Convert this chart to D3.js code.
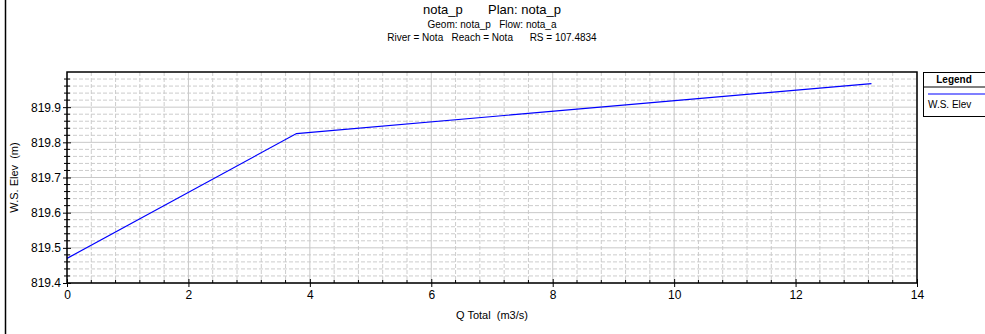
<!DOCTYPE html>
<html>
<head>
<meta charset="utf-8" />
<title>W.S. Elev vs Q Total</title>
<script src="https://d3js.org/d3.v7.min.js"></script>
<style>
  body { margin: 0; background: #fff; font-family: "Liberation Sans", Arial, sans-serif; }
  .tick text { font-size: 12px; fill: #000; }
</style>
</head>
<body>
<div id="chart"></div>
<script>
// data
var qTotal = [0, 3.78, 13.25];
var wsElev = [819.47, 819.825, 819.967];
var xTicks = [0, 2, 4, 6, 8, 10, 12, 14];
var yTicks = [819.4, 819.5, 819.6, 819.7, 819.8, 819.9];
var titleLines = ["nota_p       Plan: nota_p", "Geom: nota_p   Flow: nota_a", "River = Nota   Reach = Nota      RS = 107.4834"];

var W = 985, H = 334;
var margin = { top: 72, right: 68, bottom: 51, left: 67 };
var width = W - margin.left - margin.right,
    height = H - margin.top - margin.bottom;

var svg = d3.select("#chart").append("svg")
    .attr("width", W).attr("height", H);

// outer frame line on the left
svg.append("line").attr("x1", 5.5).attr("x2", 5.5).attr("y1", 0).attr("y2", H)
    .attr("stroke", "#000").attr("stroke-width", 1.5);

// titles
svg.append("text").attr("x", 492).attr("y", 14).attr("text-anchor", "middle")
    .style("font-size", "13px").style("white-space", "pre").text(titleLines[0]);
svg.append("text").attr("x", 492).attr("y", 28).attr("text-anchor", "middle")
    .style("font-size", "10px").style("white-space", "pre").text(titleLines[1]);
svg.append("text").attr("x", 492).attr("y", 41).attr("text-anchor", "middle")
    .style("font-size", "10px").style("white-space", "pre").text(titleLines[2]);

var g = svg.append("g").attr("transform", "translate(" + margin.left + "," + margin.top + ")");

var x = d3.scaleLinear().domain([0, 14]).range([0, width]);
var y = d3.scaleLinear().domain([819.4, 820.0]).range([height, 0]);

var xMinor = d3.range(0, 14.001, 0.4).filter(function (v) { return Math.abs(v / 2 - Math.round(v / 2)) > 1e-6; });
var yMinor = d3.range(819.4, 820.0001, 0.02).filter(function (v) { return Math.abs(v * 10 - Math.round(v * 10)) > 1e-6; });

// minor grid, dashed
g.append("g").selectAll("line").data(xMinor).enter().append("line")
    .attr("x1", function (d) { return x(d); }).attr("x2", function (d) { return x(d); })
    .attr("y1", 0).attr("y2", height)
    .attr("stroke", "#cccccc").attr("stroke-dasharray", "4,2");
g.append("g").selectAll("line").data(yMinor).enter().append("line")
    .attr("y1", function (d) { return y(d); }).attr("y2", function (d) { return y(d); })
    .attr("x1", 0).attr("x2", width)
    .attr("stroke", "#cccccc").attr("stroke-dasharray", "4,2");

// major grid, solid
g.append("g").selectAll("line").data(xTicks).enter().append("line")
    .attr("x1", function (d) { return x(d); }).attr("x2", function (d) { return x(d); })
    .attr("y1", 0).attr("y2", height).attr("stroke", "#c8c8c8");
g.append("g").selectAll("line").data(yTicks).enter().append("line")
    .attr("y1", function (d) { return y(d); }).attr("y2", function (d) { return y(d); })
    .attr("x1", 0).attr("x2", width).attr("stroke", "#c8c8c8");

// axes
var xAxis = g.append("g").attr("transform", "translate(0," + height + ")")
    .call(d3.axisBottom(x).tickValues(xTicks).tickFormat(d3.format("d")).tickSize(4).tickPadding(3));
xAxis.select(".domain").remove();
xAxis.selectAll(".tick line").attr("y1", -4);

var yAxis = g.append("g")
    .call(d3.axisLeft(y).tickValues(yTicks).tickFormat(d3.format(".1f")).tickSize(4).tickPadding(2));
yAxis.select(".domain").remove();
yAxis.selectAll(".tick line").attr("x1", 4);

// minor tick marks
g.append("g").selectAll("line").data(xMinor).enter().append("line")
    .attr("x1", function (d) { return x(d); }).attr("x2", function (d) { return x(d); })
    .attr("y1", height - 3).attr("y2", height).attr("stroke", "#000");
g.append("g").selectAll("line").data(yMinor).enter().append("line")
    .attr("y1", function (d) { return y(d); }).attr("y2", function (d) { return y(d); })
    .attr("x1", -3).attr("x2", 3).attr("stroke", "#000");

// data line
var line = d3.line().x(function (d) { return x(d[0]); }).y(function (d) { return y(d[1]); });
g.append("path").datum(d3.zip(qTotal, wsElev))
    .attr("d", line).attr("fill", "none").attr("stroke", "#0000ff").attr("stroke-width", 1.2);

// plot frame
g.append("rect").attr("x", 0).attr("y", 0).attr("width", width).attr("height", height)
    .attr("fill", "none").attr("stroke", "#000").attr("stroke-width", 1.5);

// axis titles
svg.append("text").attr("x", margin.left + width / 2).attr("y", 319).attr("text-anchor", "middle")
    .style("font-size", "11px").style("white-space", "pre").text("Q Total  (m3/s)");
svg.append("text").attr("transform", "translate(18," + (margin.top + height / 2) + ") rotate(-90)")
    .attr("text-anchor", "middle").style("font-size", "11px").style("white-space", "pre").text("W.S. Elev  (m)");

// legend
var lg = svg.append("g").attr("transform", "translate(923,72)");
lg.append("rect").attr("x", 0.5).attr("y", 0.5).attr("width", 70).attr("height", 44)
    .attr("fill", "#fff").attr("stroke", "#000");
lg.append("line").attr("x1", 0).attr("x2", 70).attr("y1", 15).attr("y2", 15).attr("stroke", "#000");
lg.append("text").attr("x", 31).attr("y", 11).attr("text-anchor", "middle")
    .style("font-size", "10px").style("font-weight", "bold").text("Legend");
lg.append("line").attr("x1", 5).attr("x2", 70).attr("y1", 22).attr("y2", 22)
    .attr("stroke", "#0000ff").attr("stroke-width", 1.2);
lg.append("text").attr("x", 5).attr("y", 36).style("font-size", "10px").text("W.S. Elev");
</script>
</body>
</html>
